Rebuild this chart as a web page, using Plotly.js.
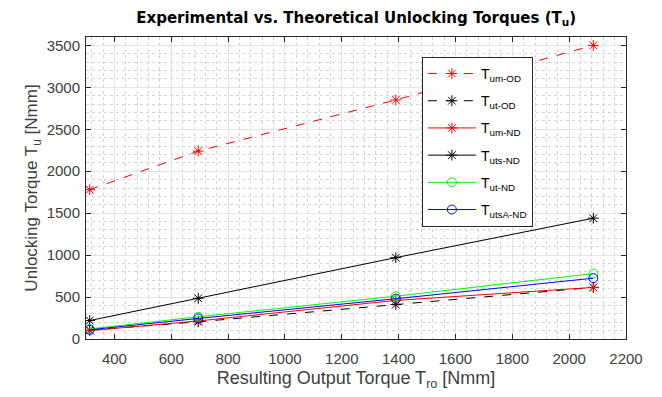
<!DOCTYPE html>
<html>
<head>
<meta charset="utf-8">
<script src="https://cdn.plot.ly/plotly-3.0.1.min.js"></script>
<style>html,body{margin:0;padding:0;background:#fff;}#chart{width:662px;height:397px;}</style>
</head>
<body>
<div id="chart"></div>
<script>
const outputTorque = [313, 695, 1390, 2085];
const tumOD  = [1780, 2240, 2850, 3500];
const tutOD  = [105, 205, 410, 615];
const tumND  = [100, 215, 460, 615];
const tutsND = [220, 485, 970, 1440];
const tutND  = [120, 265, 510, 780];
const tutsAND = [110, 245, 480, 725];
const seriesNames = ['T<sub>um-OD</sub>', 'T<sub>ut-OD</sub>', 'T<sub>um-ND</sub>', 'T<sub>uts-ND</sub>', 'T<sub>ut-ND</sub>', 'T<sub>utsA-ND</sub>'];

const FONT = 'Liberation Sans, Arial, sans-serif';
let gi = 0;
const mk = (y, name, color, dash, symbol) => ({
  x: outputTorque, y: y, name: name, type: 'scatter', mode: 'lines+markers',
  legendgroup: 'g' + (gi++),
  line: {color: color, width: 1, dash: dash},
  marker: {symbol: symbol, size: 9, color: color, line: {color: color, width: 1}}
});

const data = [
  mk(tumOD, seriesNames[0], '#ff0000', 'dash', 'asterisk-open'),
  mk(tutOD, seriesNames[1], '#000000', 'dash', 'asterisk-open'),
  mk(tumND, seriesNames[2], '#ff0000', 'solid', 'asterisk-open'),
  mk(tutsND, seriesNames[3], '#000000', 'solid', 'asterisk-open'),
  mk(tutND, seriesNames[4], '#00ff00', 'solid', 'circle-open'),
  mk(tutsAND, seriesNames[5], '#0000ff', 'solid', 'circle-open')
];

const axisCommon = {
  showline: true, mirror: 'ticks', linecolor: '#262626', linewidth: 1,
  ticks: 'inside', ticklen: 5, tickcolor: '#262626',
  showgrid: true, gridcolor: '#e3e3e3', gridwidth: 1,
  zeroline: false,
  tickfont: {family: FONT, size: 15, color: '#404040'}
};

const layout = {
  width: 662, height: 397,
  margin: {l: 86, r: 36, t: 37, b: 58},
  paper_bgcolor: '#ffffff', plot_bgcolor: '#ffffff',
  title: {
    text: '<b>Experimental vs. Theoretical Unlocking Torques (T<sub>u</sub>)</b>',
    font: {family: 'DejaVu Sans, Liberation Sans, sans-serif', size: 15, color: '#000'},
    x: 0.538, xanchor: 'center', y: 0.955, yanchor: 'middle'
  },
  xaxis: Object.assign({}, axisCommon, {
    range: [300, 2200], tick0: 400, dtick: 200,
    ticklabelstandoff: 6,
    minor: {dtick: 40, tick0: 0, showgrid: true, gridcolor: '#d4d4d4', griddash: 'dot', gridwidth: 1, ticks: ''},
    title: {text: 'Resulting Output Torque T<sub>ro</sub> [Nmm]', font: {family: FONT, size: 18, color: '#404040'}, standoff: 5}
  }),
  yaxis: Object.assign({}, axisCommon, {
    range: [0, 3600], tick0: 0, dtick: 500,
    ticklabelstandoff: 2,
    minor: {dtick: 100, showgrid: true, gridcolor: '#d4d4d4', griddash: 'dot', gridwidth: 1, ticks: ''},
    title: {text: 'Unlocking Torque T<sub>u</sub> [Nmm]', font: {family: FONT, size: 17, color: '#404040'}, standoff: 4}
  }),
  legend: {
    x: 0.622, y: 0.934, xanchor: 'left', yanchor: 'top',
    bgcolor: '#ffffff', bordercolor: '#262626', borderwidth: 1,
    font: {family: FONT, size: 14, color: '#000'},
    tracegroupgap: 6, traceorder: 'grouped',
    itemwidth: 48
  },
  showlegend: true
};

Plotly.newPlot('chart', data, layout, {displayModeBar: false, staticPlot: true});
</script>
</body>
</html>
